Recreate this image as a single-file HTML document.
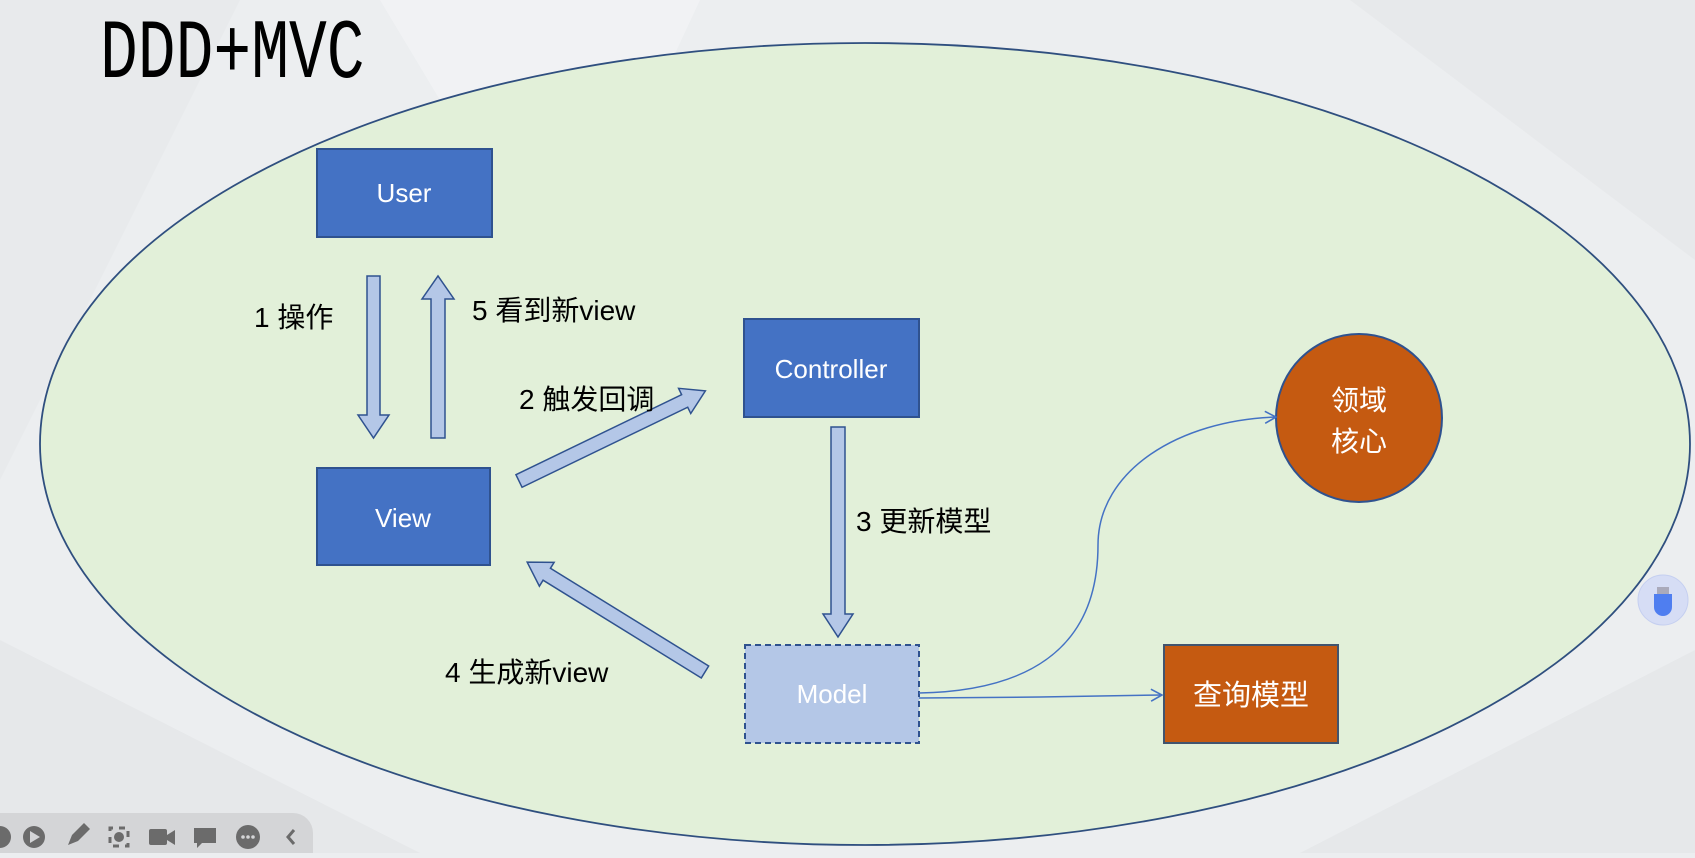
<!DOCTYPE html>
<html><head><meta charset="utf-8"><style>
html,body{margin:0;padding:0;}
body{width:1695px;height:853px;overflow:hidden;background:#eceef0;}
svg text{font-family:"Liberation Sans","Noto Sans CJK SC",sans-serif;}
</style></head><body>
<svg width="1695" height="853" viewBox="0 0 1695 853" xmlns="http://www.w3.org/2000/svg">
<defs>
<marker id="ah" markerWidth="14" markerHeight="14" refX="12" refY="7" orient="auto" markerUnits="userSpaceOnUse">
<path d="M1,1 L12,7 L1,13" fill="none" stroke="#4472c4" stroke-width="1.6"/>
</marker>
</defs>
<rect width="1695" height="853" fill="#eceef0"/>
<polygon points="0,0 240,0 0,480" fill="#e8eaec"/>
<polygon points="380,0 700,0 560,300" fill="#f1f2f4"/>
<polygon points="1350,0 1695,0 1695,260" fill="#e7e9eb"/>
<polygon points="0,853 0,640 420,853" fill="#e6e8ea"/>
<polygon points="1300,853 1695,650 1695,853" fill="#e6e8ea"/>
<text x="100" y="77" font-size="84" transform="translate(100,0) scale(0.75,1) translate(-100,0)" fill="#000" style="font-family:'Liberation Mono',monospace">DDD+MVC</text>
<ellipse cx="865" cy="444" rx="825" ry="401" fill="#e2f0d9" stroke="#2f4f7f" stroke-width="1.8"/>
<!-- boxes -->
<rect x="317" y="149" width="175" height="88" fill="#4472c4" stroke="#2f528f" stroke-width="2"/>
<text x="404" y="202" font-size="26" fill="#fff" text-anchor="middle">User</text>
<rect x="317" y="468" width="173" height="97" fill="#4472c4" stroke="#2f528f" stroke-width="2"/>
<text x="403" y="527" font-size="26" fill="#fff" text-anchor="middle">View</text>
<rect x="744" y="319" width="175" height="98" fill="#4472c4" stroke="#2f528f" stroke-width="2"/>
<text x="831" y="378" font-size="26" fill="#fff" text-anchor="middle">Controller</text>
<rect x="745" y="645" width="174" height="98" fill="#b4c7e7" stroke="#2f528f" stroke-width="2" stroke-dasharray="6,4"/>
<text x="832" y="703" font-size="26" fill="#fff" text-anchor="middle">Model</text>
<rect x="1164" y="645" width="174" height="98" fill="#c55a11" stroke="#41546e" stroke-width="2"/>
<text x="1251" y="705" font-size="29" fill="#fff" text-anchor="middle">查询模型</text>
<ellipse cx="1359" cy="418" rx="83" ry="84" fill="#c55a11" stroke="#2f528f" stroke-width="2"/>
<text x="1359" y="410" font-size="28" fill="#fff" text-anchor="middle">领域</text>
<text x="1359" y="451" font-size="28" fill="#fff" text-anchor="middle">核心</text>
<!-- block arrows -->
<g fill="#b4c7e7" stroke="#2f528f" stroke-width="1.5">
<polygon points="367,276 380,276 380,415 389,415 373.5,438 358,415 367,415"/>
<polygon points="431,438 445,438 445,299 454,299 438,276 422,299 431,299"/>
<polygon points="0,-7 184,-7 184,-14 207,0 184,14 184,7 0,7" transform="translate(519,481) rotate(-25.8)"/>
<polygon points="831,427 845,427 845,614 853,614 838,637 823,614 831,614"/>
<polygon points="0,-7 186,-7 186,-14 209,0 186,14 186,7 0,7" transform="translate(705,672) rotate(-148.3)"/>
</g>
<!-- labels -->
<g font-size="28" fill="#000">
<text x="254" y="327">1 操作</text>
<text x="472" y="320">5 看到新view</text>
<text x="519" y="409">2 触发回调</text>
<text x="856" y="531">3 更新模型</text>
<text x="445" y="682">4 生成新view</text>
</g>
<!-- connectors -->
<path d="M919,693 C1080,690 1098,600 1098,545 C1098,470 1180,420 1276,417" fill="none" stroke="#4472c4" stroke-width="1.5" marker-end="url(#ah)"/>
<path d="M919,698 L1040,697 L1162,695" fill="none" stroke="#4472c4" stroke-width="1.5" marker-end="url(#ah)"/>
<!-- usb widget -->
<circle cx="1663" cy="600" r="25" fill="#d6ddf5" stroke="#c5cff0"/>
<rect x="1657" y="587" width="12" height="8" fill="#aab"/>
<path d="M1654,594 h18 v13 a9,9 0 0 1 -18,0 z" fill="#4f7ef0"/>
<!-- toolbar -->
<path d="M0,813 H293 a20,20 0 0 1 20,20 V853 H0 Z" fill="#d4d5d7"/>
<g fill="#6b6b6b">
<circle cx="0" cy="837" r="11"/>
<circle cx="34" cy="837" r="11"/>
<polygon points="30,831 40,837 30,843" fill="#d4d5d7"/>
<polygon points="68,845 72,835 84,823 90,829 78,841"/>
<rect x="110" y="828" width="18" height="18" fill="none" stroke="#6b6b6b" stroke-width="3" stroke-dasharray="6,6" stroke-dashoffset="3"/>
<circle cx="119" cy="837" r="5"/>
<rect x="149" y="829" width="18" height="16" rx="2"/>
<polygon points="167,835 175,830 175,845 167,840"/>
<path d="M194,828 h22 v15 h-14 l-5,5 v-5 h-3 z"/>
<circle cx="248" cy="837" r="12"/>
<polyline points="294,830 288,837 294,844" fill="none" stroke="#6b6b6b" stroke-width="3"/>
</g>
<g fill="#d4d5d7"><circle cx="243" cy="837" r="1.8"/><circle cx="248" cy="837" r="1.8"/><circle cx="253" cy="837" r="1.8"/></g>
</svg>
</body></html>
